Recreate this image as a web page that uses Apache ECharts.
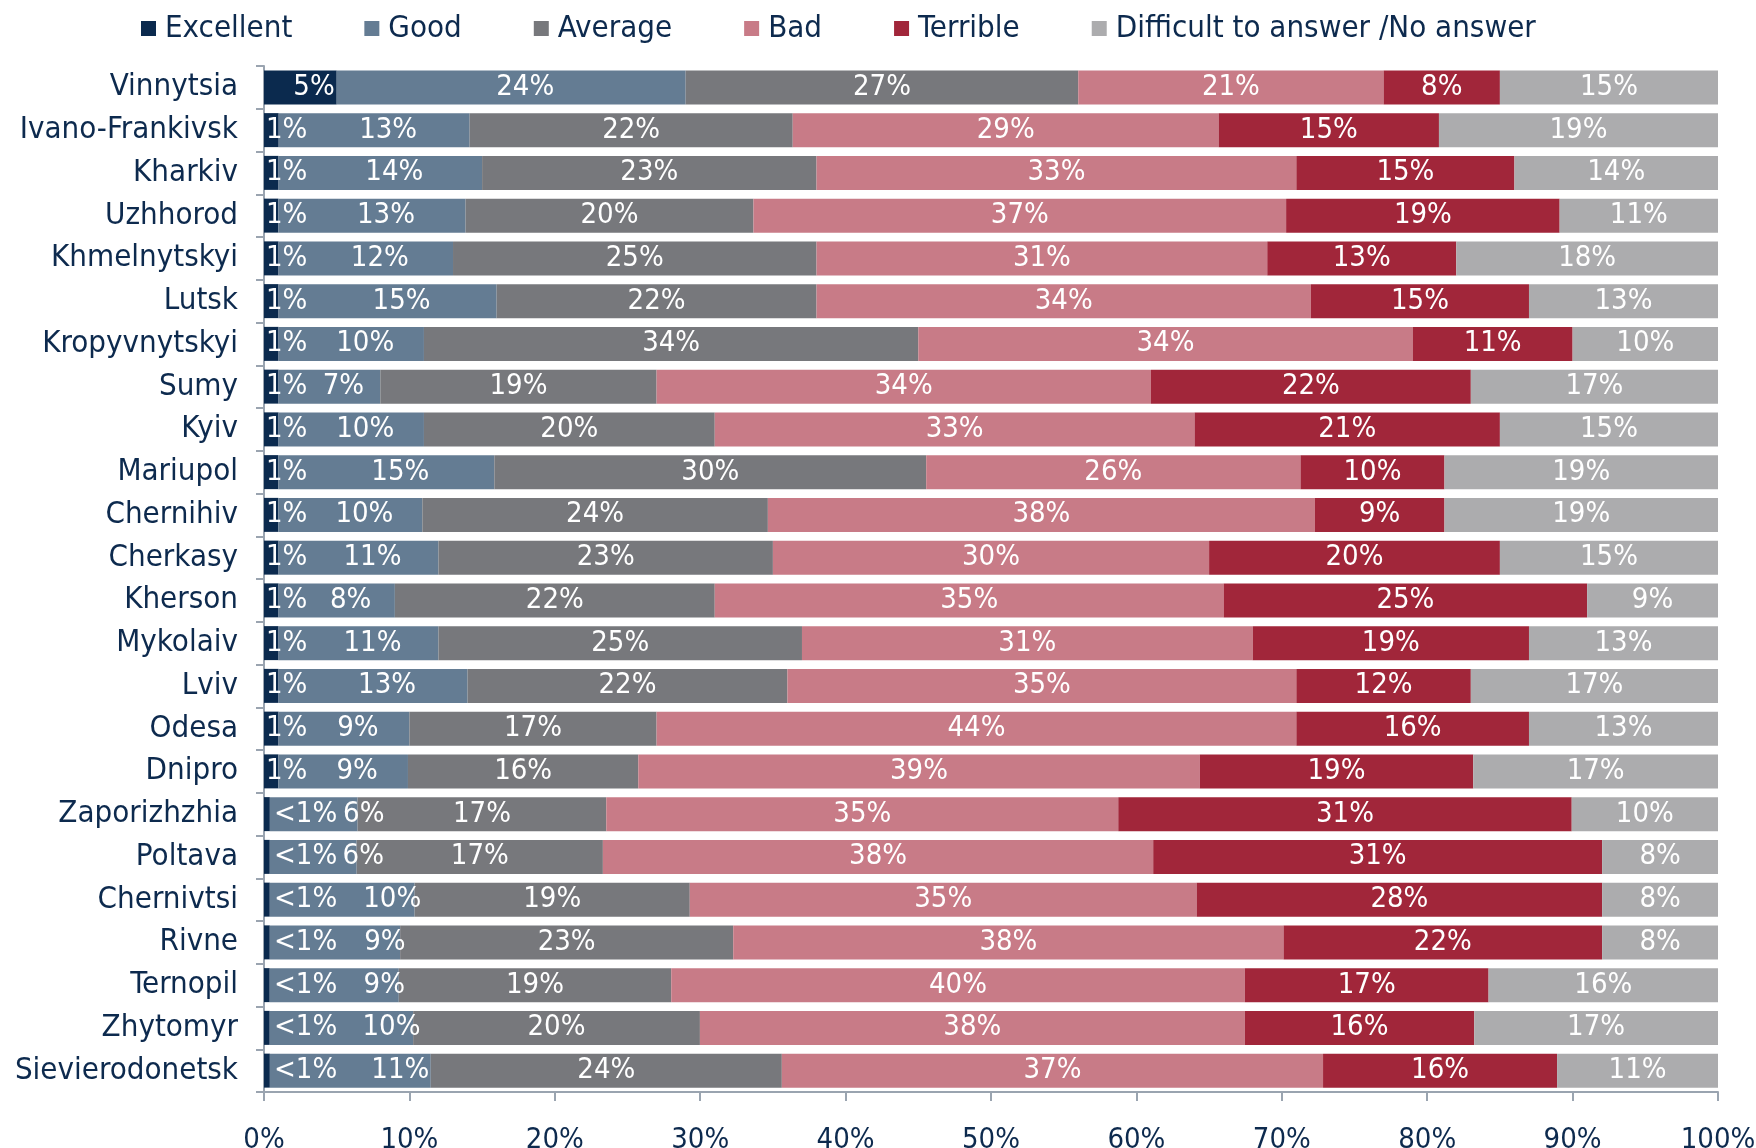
<!DOCTYPE html>
<html>
<head>
<meta charset="utf-8">
<script src="https://cdn.jsdelivr.net/npm/echarts@6/dist/echarts.min.js"></script>
<style>
  html, body { margin: 0; padding: 0; background: #fff; }
  #chart { width: 1756px; height: 1148px; }
</style>
</head>
<body>
<div id="chart"></div>
<script>
// cities, top to bottom
const cities = ['Vinnytsia', 'Ivano-Frankivsk', 'Kharkiv', 'Uzhhorod', 'Khmelnytskyi', 'Lutsk',
  'Kropyvnytskyi', 'Sumy', 'Kyiv', 'Mariupol', 'Chernihiv', 'Cherkasy', 'Kherson', 'Mykolaiv',
  'Lviv', 'Odesa', 'Dnipro', 'Zaporizhzhia', 'Poltava', 'Chernivtsi', 'Rivne', 'Ternopil',
  'Zhytomyr', 'Sievierodonetsk'];

// answer shares in % (0.4 stands for "<1%")
const excellent = [5, 1, 1, 1, 1, 1, 1, 1, 1, 1, 1, 1, 1, 1, 1, 1, 1, 0.4, 0.4, 0.4, 0.4, 0.4, 0.4, 0.4];
const good      = [24, 13, 14, 13, 12, 15, 10, 7, 10, 15, 10, 11, 8, 11, 13, 9, 9, 6, 6, 10, 9, 9, 10, 11];
const average   = [27, 22, 23, 20, 25, 22, 34, 19, 20, 30, 24, 23, 22, 25, 22, 17, 16, 17, 17, 19, 23, 19, 20, 24];
const bad       = [21, 29, 33, 37, 31, 34, 34, 34, 33, 26, 38, 30, 35, 31, 35, 44, 39, 35, 38, 35, 38, 40, 38, 37];
const terrible  = [8, 15, 15, 19, 13, 15, 11, 22, 21, 10, 9, 20, 25, 19, 12, 16, 19, 31, 31, 28, 22, 17, 16, 16];
const noAnswer  = [15, 19, 14, 11, 18, 13, 10, 17, 15, 19, 19, 15, 9, 13, 17, 13, 17, 10, 8, 8, 8, 16, 17, 11];

const seriesNames = ['Excellent', 'Good', 'Average', 'Bad', 'Terrible', 'Difficult to answer /No answer'];
const seriesData = [excellent, good, average, bad, terrible, noAnswer];
const colors = ['#0b2a4e', '#647c93', '#77787c', '#c87b87', '#a1263a', '#acacae'];

const navy = '#0d2a4e';
const fontFamily = '"DejaVu Sans Condensed", "Liberation Sans Narrow", sans-serif';

// 100% stacked: every row is scaled to its own total
const totals = cities.map((c, i) => seriesData.reduce((s, arr) => s + arr[i], 0));

const pctLabel = v => (v < 1 ? '<1%' : v + '%');

const series = seriesData.map((arr, k) => ({
  name: seriesNames[k],
  type: 'bar',
  stack: 'total',
  barWidth: 34,
  itemStyle: { color: colors[k] },
  label: {
    show: true,
    position: 'inside',
    color: '#fff',
    fontSize: 29,
    fontFamily: fontFamily,
    formatter: p => pctLabel(p.data.raw)
  },
  data: arr.map((v, i) => {
    const item = { value: v / totals[i] * 100, raw: v };
    if (k === 0) {
      // small "Excellent" shares: label runs out to the right of the sliver
      item.label = v >= 3
        ? { position: 'insideRight', distance: 2 }
        : { position: 'insideLeft', distance: v < 1 ? 10 : 2 };
    }
    if (k === 1) {
      item.label = { offset: [excellent[i] < 1 ? 50 : 14, 0] };
    }
    return item;
  })
}));

const chart = echarts.init(document.getElementById('chart'));
chart.setOption({
  animation: false,
  backgroundColor: '#fff',
  textStyle: { fontFamily: fontFamily },
  legend: {
    top: 8,
    left: 136,
    itemWidth: 15,
    itemHeight: 15,
    itemGap: 72,
    icon: 'rect',
    textStyle: { color: navy, fontSize: 31, fontFamily: fontFamily, padding: [0, 0, 0, 4] },
    data: seriesNames
  },
  grid: { left: 264, right: 38, top: 66, bottom: 56, outerBoundsMode: 'none' },
  xAxis: {
    type: 'value',
    min: 0,
    max: 100,
    interval: 10,
    axisLine: { show: true, lineStyle: { color: '#9aa4b0', width: 2 } },
    axisTick: { show: true, length: 9, lineStyle: { color: '#9aa4b0', width: 2 } },
    splitLine: { show: false },
    axisLabel: { formatter: '{value}%', color: navy, fontSize: 29, margin: 34 }
  },
  yAxis: {
    type: 'category',
    inverse: true,
    data: cities,
    axisLine: { show: true, lineStyle: { color: '#9aa4b0', width: 2 } },
    axisTick: { show: true, length: 8, lineStyle: { color: '#9aa4b0', width: 2 } },
    axisLabel: { color: navy, fontSize: 31, margin: 26 }
  },
  series: series
});
</script>
</body>
</html>
